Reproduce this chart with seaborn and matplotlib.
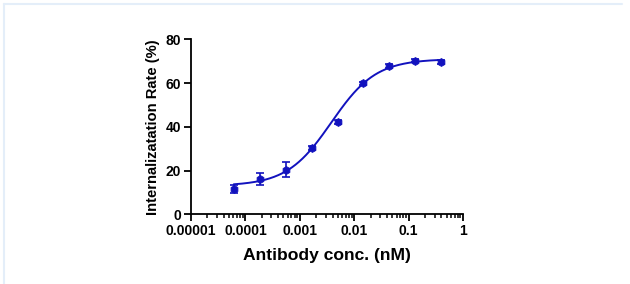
import numpy as np
import pandas as pd
import matplotlib
matplotlib.use("Agg")
import matplotlib.pyplot as plt
import seaborn as sns
from matplotlib.lines import Line2D
from matplotlib.ticker import LogLocator, FixedLocator, FixedFormatter, NullFormatter

# Data
conc_nM = [6.1e-5, 1.83e-4, 5.49e-4, 1.65e-3, 4.94e-3, 1.48e-2, 4.44e-2, 0.133, 0.4]
rate_pct = [11.5, 16.3, 20.4, 30.2, 42.3, 59.9, 67.7, 70.3, 69.6]
rate_err = [1.7, 2.7, 3.4, 0.8, 1.0, 0.8, 0.8, 0.8, 1.0]

# 4-parameter logistic fit parameters (estimated from the curve)
fit_bottom = 13.0
fit_top = 71.0
fit_ec50 = 0.0038
fit_hill = 1.06

x_ticks = [1e-5, 1e-4, 1e-3, 1e-2, 1e-1, 1]
x_tick_labels = ["0.00001", "0.0001", "0.001", "0.01", "0.1", "1"]
y_ticks = [0, 20, 40, 60, 80]

color = "#1212BE"

sns.set_theme(style="ticks")
plt.rcParams["font.family"] = ["Liberation Sans", "DejaVu Sans"]
plt.rcParams["font.weight"] = "bold"
plt.rcParams["text.color"] = "black"
plt.rcParams["axes.labelcolor"] = "black"

fig = plt.figure(figsize=(6.3, 2.84), dpi=100)
fig.patch.set_facecolor("white")
ax = fig.add_axes([0.3032, 0.2454, 0.4317, 0.6162])

# fitted curve
xc = np.logspace(np.log10(conc_nM[0]), np.log10(conc_nM[-1]), 300)
yc = fit_bottom + (fit_top - fit_bottom) / (1 + (fit_ec50 / xc) ** fit_hill)
curve = pd.DataFrame({"x": xc, "y": yc})
sns.lineplot(data=curve, x="x", y="y", ax=ax, color=color, linewidth=1.4)

pts = pd.DataFrame({"x": conc_nM, "y": rate_pct})
ax.errorbar(conc_nM, rate_pct, yerr=rate_err, fmt="none", ecolor=color,
            elinewidth=1.2, capsize=3, capthick=1.2, zorder=3)
sns.scatterplot(data=pts, x="x", y="y", ax=ax, color=color, marker="h",
                s=32, edgecolor=color, linewidth=0.6, zorder=4)

ax.set_xscale("log")
ax.set_xlim(1e-5, 1)
ax.set_ylim(0, 80)
ax.xaxis.set_major_locator(FixedLocator(x_ticks))
ax.xaxis.set_major_formatter(FixedFormatter(x_tick_labels))
ax.xaxis.set_minor_locator(LogLocator(base=10, subs=np.arange(2, 10), numticks=20))
ax.xaxis.set_minor_formatter(NullFormatter())
ax.set_yticks(y_ticks)

for s in ["top", "right"]:
    ax.spines[s].set_visible(False)
for s in ["left", "bottom"]:
    ax.spines[s].set_linewidth(1.3)
    ax.spines[s].set_color("black")

ax.tick_params(axis="both", which="major", direction="out", length=5, width=1.3,
               labelsize=10, color="black", labelcolor="black", pad=2)
ax.tick_params(axis="x", which="minor", direction="out", length=3, width=1.1, color="black")
for lab in ax.get_xticklabels() + ax.get_yticklabels():
    lab.set_fontweight("bold")

ax.set_xlabel("Antibody conc. (nM)", fontsize=12.6, fontweight="bold", labelpad=7, color="black")
ax.set_ylabel("Internalizatation Rate (%)", fontsize=10.6, fontweight="bold", labelpad=4, color="black")

# light frame lines at top and left of the image
fig.add_artist(Line2D([0.006, 0.988], [0.986, 0.986], transform=fig.transFigure,
                      color="#E4EEF9", linewidth=1.5))
fig.add_artist(Line2D([0.006, 0.006], [0.0, 0.986], transform=fig.transFigure,
                      color="#E4EEF9", linewidth=1.5))

fig.savefig("out.png", dpi=100, facecolor="white")
